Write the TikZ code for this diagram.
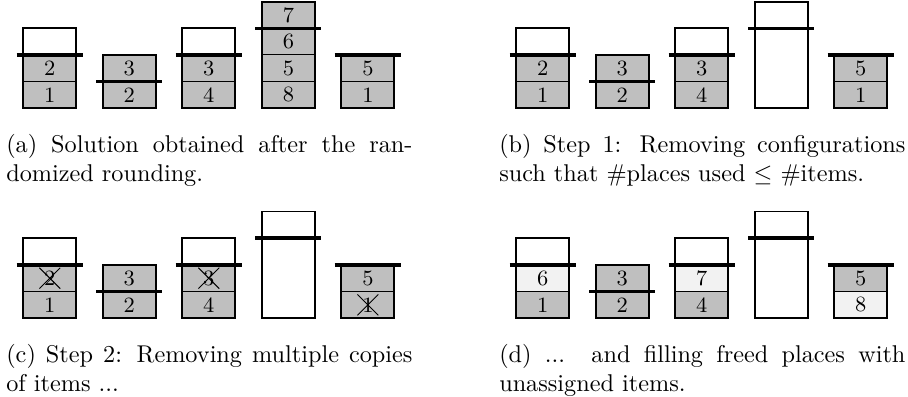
\documentclass[tikz,border=0pt]{standalone}
\usepackage{amsmath,amssymb}
\usepackage{xcolor}
\usepackage{tikz}
\usetikzlibrary{shapes.misc}
\tikzset{
  slot/.style={draw, thin, minimum width=21.86pt, minimum height=11pt, inner sep=0pt, outer sep=0pt, font=\small},
  slotfull/.style={slot, fill=gray!50},
  slotnew/.style={slot, fill=gray!10},
  bin/.style={thick},
  capbar/.style={line width=1.4pt},
  struck/.style={cross out, draw, thin, minimum width=8.2pt, minimum height=8.2pt, inner sep=0pt},
  caption/.style={anchor=base west, inner sep=0pt, text width=167.5pt, align=justify}
}
\begin{document}
\begin{tikzpicture}[x=10.93pt, y=11pt]
  \useasboundingbox (0,0) rectangle (34.26,14.85);

  % ======= (a) after the rounding (top left) =======
  \begin{scope}[shift={(0.88,10.79)}]
    % items in their places: bin/place/item
    \foreach \i/\j/\n in {0/0/1,0/1/2,1/0/2,1/1/3,2/0/4,2/1/3,3/0/8,3/1/5,3/2/6,3/3/7,4/0/1,4/1/5} {
      \node[slotfull] (a-\i-\j) at (3*\i+1,\j+0.5) {\n};
    }
    % bins: bin/height/capacity
    \foreach \i/\h/\b in {0/3/2,1/2/1,2/3/2,3/4/3,4/2/2} {
      \draw[bin] (3*\i,0) rectangle (3*\i+2,\h);
      \draw[capbar] (3*\i-0.25,\b) -- (3*\i+2.25,\b);
    }
    \node[caption] (cap-a) at (-0.66,-1.65)
      {(a) Solution obtained after the ran-\linebreak domized rounding.};
  \end{scope}

  % ======= (b) step 1 (top right) =======
  \begin{scope}[shift={(19.48,10.79)}]
    \foreach \i/\j/\n in {0/0/1,0/1/2,1/0/2,1/1/3,2/0/4,2/1/3,4/0/1,4/1/5} {
      \node[slotfull] (b-\i-\j) at (3*\i+1,\j+0.5) {\n};
    }
    \foreach \i/\h/\b in {0/3/2,1/2/1,2/3/2,3/4/3,4/2/2} {
      \draw[bin] (3*\i,0) rectangle (3*\i+2,\h);
      \draw[capbar] (3*\i-0.25,\b) -- (3*\i+2.25,\b);
    }
    \node[caption] (cap-b) at (-0.66,-1.65)
      {(b) Step 1: Removing configurations\linebreak such that \#places used $\leq$ \#items.};
  \end{scope}

  % ======= (c) step 2 (bottom left) =======
  \begin{scope}[shift={(0.88,2.92)}]
    \foreach \i/\j/\n in {0/0/1,0/1/2,1/0/2,1/1/3,2/0/4,2/1/3,4/0/1,4/1/5} {
      \node[slotfull] (c-\i-\j) at (3*\i+1,\j+0.5) {\n};
    }
    \foreach \i/\h/\b in {0/3/2,1/2/1,2/3/2,3/4/3,4/2/2} {
      \draw[bin] (3*\i,0) rectangle (3*\i+2,\h);
      \draw[capbar] (3*\i-0.25,\b) -- (3*\i+2.25,\b);
    }
    % removed copies
    \foreach \p in {0-1,2-1,4-0} {
      \node[struck] (x-\p) at (c-\p) {};
    }
    \node[caption] (cap-c) at (-0.66,-1.65)
      {(c) Step 2: Removing multiple copies\linebreak of items ...};
  \end{scope}

  % ======= (d) refilling (bottom right) =======
  \begin{scope}[shift={(19.48,2.92)}]
    \foreach \i/\j/\n in {0/0/1,1/0/2,1/1/3,2/0/4,4/1/5} {
      \node[slotfull] (d-\i-\j) at (3*\i+1,\j+0.5) {\n};
    }
    % freed places, now with unassigned items
    \foreach \i/\j/\n in {0/1/6,2/1/7,4/0/8} {
      \node[slotnew] (d-\i-\j) at (3*\i+1,\j+0.5) {\n};
    }
    \foreach \i/\h/\b in {0/3/2,1/2/1,2/3/2,3/4/3,4/2/2} {
      \draw[bin] (3*\i,0) rectangle (3*\i+2,\h);
      \draw[capbar] (3*\i-0.25,\b) -- (3*\i+2.25,\b);
    }
    \node[caption] (cap-d) at (-0.66,-1.65)
      {(d) ... and filling freed places with\linebreak unassigned items.};
  \end{scope}
\end{tikzpicture}
\end{document}
